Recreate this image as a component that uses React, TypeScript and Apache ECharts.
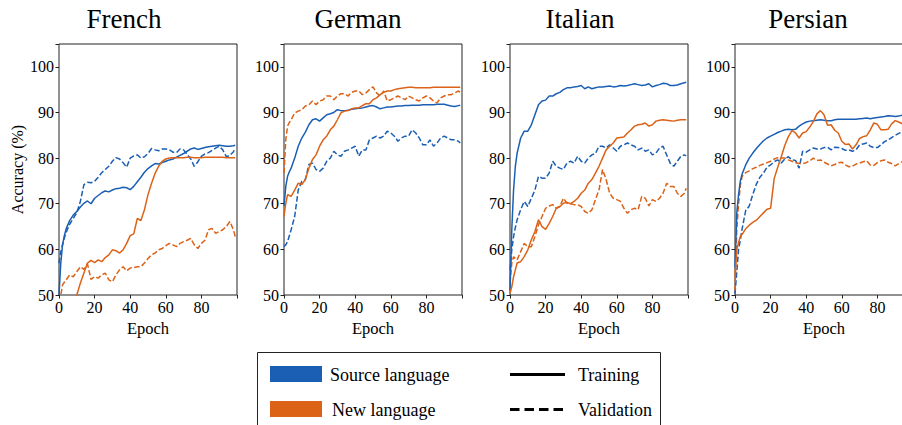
import React, { useEffect, useRef } from "react";
import * as echarts from "echarts";

const EPOCHS = [0, 1, 2, 3, 4, 6, 8, 10, 12, 14, 16, 18, 20, 22, 24, 26, 28, 30, 32, 34, 36, 38, 40, 42, 44, 46, 48, 50, 52, 54, 56, 58, 60, 62, 64, 66, 68, 70, 72, 74, 76, 78, 80, 82, 84, 86, 88, 90, 92, 94, 96, 98, 99];

const LANGUAGES = ["French", "German", "Italian", "Persian"];
const X_TICKS = [0, 20, 40, 60, 80];
const Y_TICKS = [50, 60, 70, 80, 90, 100];

// French
const frenchSourceTrain = [50, 57, 61, 63, 64.5, 66.3, 67.5, 68.3, 69.3, 70.1, 70.6, 70, 71.2, 71.8, 72.4, 72.8, 72.6, 73, 73.3, 73.4, 73.6, 73.5, 73.1, 73.8, 74.8, 75.8, 76.9, 77.7, 78.3, 78.8, 78.7, 79, 79.3, 79.6, 79.8, 80.2, 80.6, 81, 81.5, 82, 82.2, 81.9, 82.1, 82.3, 82.5, 82.6, 82.7, 82.8, 82.7, 82.6, 82.6, 82.7, 82.8];
const frenchSourceVal = [57, 59.5, 61, 62.5, 63.7, 65.5, 66.8, 68, 70.5, 74.2, 74.7, 74.6, 74.9, 75.8, 76.8, 77.5, 78.2, 79.3, 80.1, 79.8, 79, 78, 80, 80.5, 80.7, 80, 80.3, 81, 82.1, 81.8, 81.6, 82, 82, 81.8, 81.3, 81.2, 82, 81.8, 80.8, 79.8, 78.2, 79.2, 80.4, 80.9, 81.2, 81.7, 82.2, 82.6, 81.8, 80.3, 80.6, 81.4, 82.2];
const frenchNewTrain = [40, 41, 42, 43, 44, 45.5, 47.5, 50, 52.6, 54.8, 57, 57.6, 57.1, 57.7, 57.3, 58.2, 58.8, 59.9, 59.7, 59.2, 59.9, 61.3, 63, 63.4, 66.8, 66.3, 68.7, 72, 74.5, 76.7, 78.2, 79.3, 79.8, 80, 80.1, 80.1, 80.1, 80.1, 80.2, 80.2, 80.1, 80.1, 80.1, 80.2, 80.2, 80.2, 80.2, 80.2, 80.2, 80.1, 80.1, 80.1, 80.1];
const frenchNewVal = [45, 50, 52.2, 52.8, 53.3, 54.4, 54, 55.1, 56.2, 55.6, 56.8, 53.4, 54, 53.7, 54.4, 54.8, 53.3, 52.9, 54.4, 55.5, 56.2, 55.3, 55.9, 56, 56.2, 56.2, 57, 58, 58.8, 59.2, 59.9, 60.2, 60.8, 61.3, 61, 60.6, 61.3, 61.7, 62, 62.4, 61, 60.2, 61.3, 62, 64.3, 64.6, 63.5, 63.9, 64.3, 65, 66.1, 64.3, 62.8];

// German
const germanSourceTrain = [69.5, 73.8, 76, 77, 77.8, 80, 82.6, 84.4, 85.7, 87.3, 88.4, 88.6, 88.1, 88.8, 89.5, 89.7, 90, 90.6, 90.4, 90.4, 90.5, 90.7, 90.8, 90.9, 91, 91.2, 91.4, 91.5, 91.2, 90.8, 91, 91.2, 91.2, 91.3, 91.4, 91.4, 91.5, 91.5, 91.6, 91.6, 91.6, 91.7, 91.7, 91.7, 91.7, 91.8, 91.8, 91.8, 91.6, 91.4, 91.3, 91.5, 91.6];
const germanSourceVal = [60.6, 61, 61.7, 63, 64.3, 67.2, 73, 74.9, 75.3, 78.6, 78.9, 77.5, 77.1, 77.8, 79.3, 80, 81.5, 80.7, 80.4, 81.5, 81.8, 82.2, 82.6, 80.4, 81.8, 81.8, 84, 84.4, 84.8, 84.4, 84.8, 85.9, 85.5, 84.8, 83.7, 84.4, 84.8, 84.8, 86.2, 85.5, 84.4, 82.9, 82.9, 84, 82.6, 83.3, 84.4, 84.8, 84.4, 84, 84, 83.7, 83.3];
const germanNewTrain = [67.2, 70.1, 72, 71.8, 71.6, 73, 74.5, 74.2, 75.3, 77.8, 79.7, 80.7, 82.6, 84, 84.8, 86.2, 87, 88.4, 89.9, 90.3, 90.4, 90.8, 91, 91, 91.5, 91.9, 91.9, 92.8, 93.2, 93.9, 94.4, 94.7, 94.7, 95, 95.2, 95.3, 95.4, 95.5, 95.5, 95.4, 95.4, 95.4, 95.4, 95.4, 95.5, 95.5, 95.5, 95.5, 95.5, 95.5, 95.5, 95.5, 95.5];
const germanNewVal = [76.7, 84, 87, 87.8, 88.4, 89.9, 90.3, 90.6, 91.4, 91.7, 92.5, 91.7, 92.5, 92.8, 93.6, 93.6, 92.8, 93.6, 94.1, 94.1, 93.6, 94.4, 94.7, 94.7, 93.9, 94.3, 95, 95.6, 94.3, 93.6, 94.7, 92.5, 92.8, 93.2, 93.6, 93.2, 92.8, 93.6, 93.2, 92.8, 92.5, 93.2, 93.6, 93.2, 92.5, 92.1, 93.2, 93.6, 93.9, 93.9, 94.3, 94.7, 94.4];

// Italian
const italianSourceTrain = [51, 64.3, 73, 78.2, 81.1, 84.4, 85.9, 85.9, 87.3, 89.5, 91.7, 92.5, 92.7, 93.6, 93.6, 94.1, 94.4, 95, 95.4, 95.4, 95.6, 95.7, 95.9, 95.2, 95.6, 95.2, 95.4, 95.6, 95.6, 95.7, 95.8, 95.6, 95.7, 95.9, 95.8, 95.9, 96.1, 96.3, 96.1, 95.9, 96, 96.3, 95.6, 95.9, 96.1, 96.4, 96.3, 95.9, 95.9, 96, 96.3, 96.5, 96.6];
const italianSourceVal = [55.5, 59.9, 62.8, 64.8, 66.5, 68.7, 70.5, 69.4, 71.2, 73, 76, 75.6, 75.6, 76.7, 79.3, 78.2, 77.8, 77.5, 78.9, 79.3, 78.9, 80.4, 79.3, 78.9, 80, 80.7, 81, 82.6, 82.6, 82.2, 82.9, 82.2, 81.5, 82.6, 82.9, 83.3, 82.9, 82.6, 81.8, 82.2, 81.5, 81.8, 80.7, 81.1, 82.2, 82.6, 80.7, 78.9, 78.2, 79.3, 80.4, 80.7, 80.5];
const italianNewTrain = [50.4, 51.8, 54, 55.5, 57, 57.3, 58.4, 59.9, 62.1, 63.9, 66.5, 65, 64.4, 65.7, 67.2, 69, 69.4, 70.1, 70.3, 70, 70.5, 71.2, 72.3, 73, 74.5, 75.3, 76.7, 78.2, 80, 81.8, 82.6, 83.3, 84.4, 84.5, 84.6, 85.5, 86.2, 87, 87.3, 87.4, 87.7, 87, 87.3, 88.1, 88.3, 88.4, 88.3, 88.2, 88.1, 88.3, 88.4, 88.4, 88.4];
const italianNewVal = [52.6, 57, 58.4, 58, 57.7, 59.5, 61.3, 60.6, 60.6, 62.8, 65.4, 67.2, 69, 69.5, 69.8, 69, 69.4, 71.2, 70.1, 70, 69.8, 69.8, 69.4, 68.3, 67.9, 68.7, 70.9, 73, 77.5, 75.3, 72.3, 71.2, 70.9, 70.5, 69, 67.9, 68.7, 69, 68.7, 71.6, 71.2, 69.5, 70.9, 70.5, 71.2, 72.3, 74.5, 73.8, 73.8, 72.3, 71.6, 72.3, 73.4];

// Persian
const persianSourceTrain = [56, 68, 72, 75, 76.5, 78.5, 80, 81.1, 82.1, 83, 83.8, 84.4, 84.8, 85.2, 85.6, 85.9, 86.2, 86.3, 86.2, 86.3, 87, 87.5, 87.9, 88.1, 88.2, 88.3, 88.4, 88.3, 88.2, 88.2, 88.4, 88.5, 88.5, 88.5, 88.5, 88.5, 88.5, 88.6, 88.7, 88.8, 88.6, 88.8, 88.9, 89, 89.1, 89.3, 89.2, 89.1, 89.2, 89.4, 89.4, 89.4, 89.4];
const persianSourceVal = [50.3, 55, 60, 62, 64.5, 68.5, 69.5, 72, 74.3, 75.8, 76.7, 78, 78.5, 79.2, 79.6, 78.9, 79.8, 80.3, 79.6, 79.5, 77.8, 81.5, 81.3, 81.8, 82.2, 82, 82, 82.3, 82.4, 81.8, 82.4, 82.3, 82.1, 81.7, 81.8, 81.5, 81.8, 82.9, 83.1, 83.3, 82.6, 82.3, 82.3, 82.9, 83.6, 84, 84.5, 85, 85.4, 85.8, 86, 86.1, 86.2];
const persianNewTrain = [54, 59.9, 61.5, 62.8, 63.3, 64.5, 65.3, 65.9, 66.4, 67.2, 68, 68.8, 69, 75.5, 78, 80.3, 82.8, 84.7, 86, 85.5, 84.4, 85.5, 85.8, 86.8, 88, 89.7, 90.4, 89.5, 87.2, 87.3, 86.1, 85.5, 83.7, 83, 83.1, 82, 82.9, 84.3, 84.7, 84.9, 86.2, 87.7, 87.4, 86.2, 86.2, 86.3, 87.5, 88.2, 87.9, 87.5, 87.7, 87.8, 87.8];
const persianNewVal = [51, 64.3, 70, 74, 76, 76.8, 77.2, 77.7, 78, 78.4, 78.7, 79, 79.3, 79.8, 80.1, 80, 80, 79.6, 79.3, 79, 78.8, 78.8, 79, 79.4, 80, 79.5, 79.6, 79.1, 78.7, 78.3, 78.6, 79, 79.1, 78.5, 78.1, 78.2, 78.7, 78.9, 79.2, 79.4, 78.5, 78.4, 79, 79.4, 79.6, 79.1, 78.8, 78.3, 78.8, 79.2, 79.3, 79.1, 79];

const PANELS = [
  [frenchSourceTrain, frenchSourceVal, frenchNewTrain, frenchNewVal],
  [germanSourceTrain, germanSourceVal, germanNewTrain, germanNewVal],
  [italianSourceTrain, italianSourceVal, italianNewTrain, italianNewVal],
  [persianSourceTrain, persianSourceVal, persianNewTrain, persianNewVal],
];

const BLUE = "#1a5fb4";
const ORANGE = "#dc6217";
const FONT = "Liberation Serif";
const GRID_LEFTS = [59, 284, 510, 735];
const GRID_WIDTH = 178;
const GRID_TOP = 44;
const GRID_HEIGHT = 251;
const TITLE_X = [124, 358, 580, 808];

export default function App() {
  const ref = useRef<HTMLDivElement>(null);

  useEffect(() => {
    if (!ref.current) return;
    const chart = echarts.init(ref.current, undefined, { renderer: "svg" });

    const grids = GRID_LEFTS.map((left) => ({
      left,
      top: GRID_TOP,
      width: GRID_WIDTH,
      height: GRID_HEIGHT,
      show: true,
      borderColor: "#222",
      borderWidth: 1,
      backgroundColor: "transparent",
      containLabel: false,
      outerBoundsMode: "none",
    }));

    const xAxes = GRID_LEFTS.map((_, i) => ({
      type: "value",
      gridIndex: i,
      min: 0,
      max: 100,
      interval: 20,
      name: "Epoch",
      nameLocation: "middle",
      nameGap: 21,
      nameTextStyle: { fontFamily: FONT, fontSize: 16.5, color: "#000" },
      axisLine: { show: false },
      axisTick: { show: true, length: 3.5, lineStyle: { color: "#222" } },
      axisLabel: {
        fontFamily: FONT,
        fontSize: 16,
        color: "#000",
        margin: 4,
        formatter: (v: number) => (X_TICKS.includes(v) ? String(v) : ""),
      },
      splitLine: { show: false },
    }));

    const yAxes = GRID_LEFTS.map((_, i) => ({
      type: "value",
      gridIndex: i,
      min: 50,
      max: 105,
      interval: 10,
      name: i === 0 ? "Accuracy (%)" : "",
      nameLocation: "middle",
      nameGap: 34,
      nameRotate: 90,
      nameTextStyle: { fontFamily: FONT, fontSize: 16, color: "#000" },
      axisLine: { show: false },
      axisTick: { show: true, length: 3.5, lineStyle: { color: "#222" } },
      axisLabel: {
        fontFamily: FONT,
        fontSize: 16,
        color: "#000",
        margin: 5,
        formatter: (v: number) => (Y_TICKS.includes(v) ? String(v) : ""),
      },
      splitLine: { show: false },
    }));

    const styles = [
      { color: BLUE, type: "solid" },
      { color: BLUE, type: [5.5, 2.4] },
      { color: ORANGE, type: "solid" },
      { color: ORANGE, type: [5.5, 2.4] },
    ];
    const names = ["Source training", "Source validation", "New training", "New validation"];

    const series: any[] = [];
    PANELS.forEach((panel, p) => {
      panel.forEach((values, s) => {
        series.push({
          type: "line",
          name: `${LANGUAGES[p]} ${names[s]}`,
          xAxisIndex: p,
          yAxisIndex: p,
          data: EPOCHS.map((e, k) => [e, values[k]]),
          showSymbol: false,
          symbol: "none",
          clip: true,
          lineStyle: { color: styles[s].color, width: 1.5, type: styles[s].type as any },
          itemStyle: { color: styles[s].color },
          z: s === 0 || s === 2 ? 3 : 2,
        });
      });
    });

    const titles = LANGUAGES.map((name, i) => ({
      type: "text",
      x: TITLE_X[i],
      y: 19,
      style: {
        text: name,
        fontFamily: FONT,
        fontSize: 27,
        fill: "#000",
        textAlign: "center",
        textVerticalAlign: "middle",
        align: "center",
        verticalAlign: "middle",
      },
    }));

    const legendText = (text: string, x: number, y: number) => ({
      type: "text",
      x,
      y,
      style: {
        text,
        fontFamily: FONT,
        fontSize: 18,
        fill: "#000",
        textAlign: "left",
        textVerticalAlign: "middle",
        align: "left",
        verticalAlign: "middle",
      },
    });

    const legend = [
      {
        type: "rect",
        shape: { x: 257.5, y: 352.5, width: 403, height: 90 },
        style: { fill: "#fff", stroke: "#222", lineWidth: 1 },
      },
      { type: "rect", shape: { x: 270, y: 366, width: 52, height: 16 }, style: { fill: BLUE } },
      { type: "rect", shape: { x: 270, y: 401, width: 52, height: 16 }, style: { fill: ORANGE } },
      legendText("Source language", 330, 374.5),
      legendText("New language", 332, 409.5),
      {
        type: "line",
        shape: { x1: 510, y1: 374.5, x2: 565, y2: 374.5 },
        style: { stroke: "#000", lineWidth: 3 },
      },
      {
        type: "line",
        shape: { x1: 510, y1: 409.5, x2: 567, y2: 409.5 },
        style: { stroke: "#000", lineWidth: 3, lineDash: [9.5, 5] },
      },
      legendText("Training", 578, 374.5),
      legendText("Validation", 578, 409.5),
    ];

    chart.setOption({
      animation: false,
      backgroundColor: "#fff",
      grid: grids,
      xAxis: xAxes,
      yAxis: yAxes,
      series,
      graphic: [...titles, ...legend],
    });

    return () => chart.dispose();
  }, []);

  return (
    <div
      ref={ref}
      style={{ position: "absolute", left: 0, top: 0, width: 902, height: 425 }}
    />
  );
}
